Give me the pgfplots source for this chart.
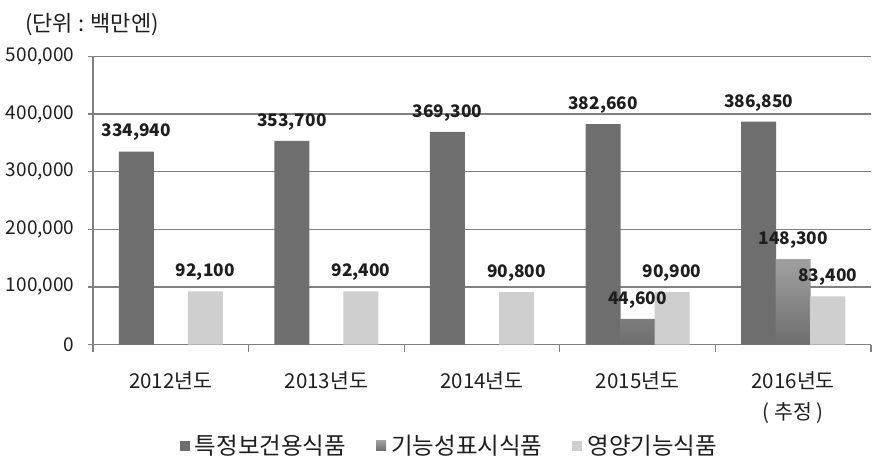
\documentclass[border=0pt]{standalone}
\usepackage{pgfplots}
\pgfplotsset{compat=1.18}
\usepackage{fontspec}
\setmainfont{Noto Sans CJK KR}
\definecolor{darkbar}{HTML}{6F6E6E}
\definecolor{lightbar}{HTML}{CFCFCF}
\definecolor{midtop}{HTML}{A0A0A0}
\definecolor{midbot}{HTML}{6E6E6E}
\definecolor{gridc}{HTML}{808080}
\definecolor{txt}{HTML}{1E1E1E}
\newcommand\tfont{\fontsize{19pt}{23pt}\selectfont}
\begin{document}
\begin{tikzpicture}[x=1pt,y=1pt]
\path[use as bounding box] (0,0) rectangle (887,467);
\begin{axis}[
  at={(93pt,122.5pt)}, anchor=south west,
  scale only axis, width=778pt, height=288pt,
  xmin=-0.5, xmax=4.5, ymin=0, ymax=500000,
  axis x line*=bottom, axis y line*=left,
  axis line style={gridc, line width=1.5pt, -},
  ymajorgrids, grid style={gridc, line width=1.5pt},
  ytick={0,100000,200000,300000,400000,500000},
  scaled y ticks=false,
  /pgf/number format/.cd, fixed, 1000 sep={,}, assume math mode=true, /pgfplots/.cd,
  tick align=outside,
  major tick length=5pt, minor tick length=7pt,
  major y tick style={gridc, line width=1.3pt},
  major x tick style={draw=none},
  minor x tick style={gridc, line width=1.3pt},
  minor xtick={-0.5,0.5,1.5,2.5,3.5,4.5},
  xtick={0,1,2,3,4},
  xticklabels={2012년도,2013년도,2014년도,2015년도,{2016년도\\( 추정 )}},
  xticklabel style={align=center, font=\fontsize{20.5pt}{31pt}\selectfont, text=txt, yshift=-19pt},
  yticklabel style={font=\tfont, text=txt, xshift=-10pt},
  clip=false,
  nodes near coords={\pgfmathprintnumber[fixed,1000 sep={,}]{\pgfplotspointmeta}},
  every node near coord/.append style={font=\fontsize{17.3pt}{21pt}\selectfont\bfseries, text=txt, inner sep=0pt, yshift=10.5pt, anchor=south},
  legend columns=3,
  legend style={at={(0.4576,-0.351)}, anchor=center, draw=none, fill=none,
    font=\fontsize{23.5pt}{27pt}\selectfont, text=txt,
    /tikz/every even column/.append style={column sep=29pt},
    /tikz/every odd column/.append style={column sep=4pt},
    nodes={inner sep=1pt}},
  legend image code/.code={\path[#1, draw=none] (0pt,-5pt) rectangle (10pt,5pt);},
]
\addplot[ybar, bar width=0.225, bar shift=-0.222, fill=darkbar, draw=none,
  every node near coord/.append style={xshift=-34.5pt}]
  coordinates {(0,334940) (1,353700) (2,369300) (3,382660) (4,386850)};
\addlegendentry{특정보건용식품}
\addplot[ybar, bar width=0.225, bar shift=0, top color=midtop, bottom color=midbot, draw=none]
  coordinates {(3,44600) (4,148300)};
\addlegendentry{기능성표시식품}
\addplot[ybar, bar width=0.225, bar shift=0.222, fill=lightbar, draw=none,
  every node near coord/.append style={xshift=34.5pt}]
  coordinates {(0,92100) (1,92400) (2,90800) (3,90900) (4,83400)};
\addlegendentry{영양기능식품}
\end{axis}
\node[anchor=west, font=\fontsize{22pt}{26pt}\selectfont, text=txt, inner sep=0pt] at (25,442) {(단위 : 백만엔)};
\end{tikzpicture}
\end{document}
